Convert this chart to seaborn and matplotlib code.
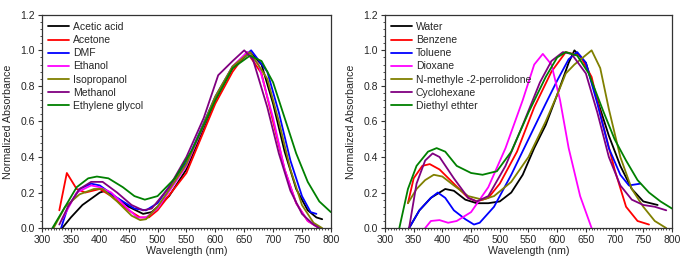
import matplotlib

matplotlib.use("Agg")

import matplotlib.pyplot as plt
import pandas as pd
import seaborn as sns
from matplotlib.ticker import MultipleLocator

COLORS = ["#000000", "#ff0000", "#0000ff", "#ff00ff", "#808000", "#800080", "#008000"]

# left panel: polar / protic solvents
LEFT_NAMES = ["Acetic acid", "Acetone", "DMF", "Ethanol", "Isopropanol", "Methanol", "Ethylene glycol"]

acetic_wl = [335, 350, 370, 400, 410, 430, 450, 475, 490, 520, 550, 600, 630, 660, 680, 700, 720, 740, 760, 775, 785]
acetic_abs = [0.0, 0.06, 0.13, 0.20, 0.21, 0.17, 0.12, 0.08, 0.09, 0.18, 0.33, 0.72, 0.90, 0.99, 0.92, 0.70, 0.43, 0.22, 0.10, 0.06, 0.05]

acetone_wl = [330, 343, 360, 375, 400, 420, 450, 470, 485, 500, 550, 600, 630, 655, 680, 700, 720, 740, 760, 780]
acetone_abs = [0.10, 0.31, 0.22, 0.20, 0.22, 0.18, 0.10, 0.06, 0.06, 0.10, 0.31, 0.70, 0.88, 0.99, 0.87, 0.60, 0.33, 0.14, 0.04, 0.0]

dmf_wl = [333, 345, 365, 385, 400, 430, 460, 480, 500, 550, 600, 630, 662, 690, 710, 730, 750, 765, 775]
dmf_abs = [0.0, 0.12, 0.22, 0.25, 0.24, 0.17, 0.11, 0.10, 0.14, 0.37, 0.74, 0.91, 1.0, 0.88, 0.65, 0.38, 0.18, 0.09, 0.08]

ethanol_wl = [335, 360, 385, 400, 420, 445, 465, 480, 500, 550, 600, 630, 655, 675, 700, 720, 740, 760, 780]
ethanol_abs = [0.05, 0.20, 0.24, 0.23, 0.20, 0.12, 0.06, 0.06, 0.11, 0.35, 0.73, 0.91, 0.99, 0.92, 0.62, 0.33, 0.14, 0.04, 0.0]

isoprop_wl = [320, 340, 365, 390, 405, 430, 455, 470, 480, 500, 550, 600, 630, 660, 690, 710, 730, 750, 770, 785]
isoprop_abs = [0.0, 0.12, 0.19, 0.22, 0.22, 0.15, 0.07, 0.045, 0.05, 0.12, 0.36, 0.74, 0.91, 0.99, 0.84, 0.60, 0.33, 0.13, 0.03, 0.0]

methanol_wl = [330, 345, 365, 385, 405, 430, 455, 475, 490, 520, 550, 580, 605, 630, 650, 665, 690, 710, 730, 750, 770, 780]
methanol_abs = [0.02, 0.12, 0.22, 0.26, 0.26, 0.20, 0.13, 0.10, 0.11, 0.23, 0.40, 0.62, 0.86, 0.94, 1.0, 0.95, 0.68, 0.42, 0.21, 0.08, 0.02, 0.0]

glycol_wl = [318, 340, 360, 380, 395, 415, 440, 460, 478, 500, 530, 560, 600, 630, 660, 680, 700, 720, 740, 760, 780, 800]
glycol_abs = [0.0, 0.12, 0.23, 0.28, 0.29, 0.28, 0.23, 0.18, 0.16, 0.18, 0.28, 0.44, 0.72, 0.90, 0.97, 0.94, 0.82, 0.62, 0.42, 0.26, 0.15, 0.09]

# right panel: non-polar solvents
RIGHT_NAMES = ["Water", "Benzene", "Toluene", "Dioxane", "N-methyle -2-perrolidone", "Cyclohexane", "Diethyl ethter"]

water_wl = [342, 360, 380, 405, 420, 440, 460, 480, 500, 520, 540, 560, 580, 600, 620, 630, 650, 670, 690, 710, 730, 750, 775]
water_abs = [0.0, 0.10, 0.17, 0.22, 0.21, 0.16, 0.14, 0.14, 0.15, 0.20, 0.30, 0.45, 0.58, 0.75, 0.93, 1.0, 0.93, 0.72, 0.52, 0.35, 0.22, 0.15, 0.13]

benzene_wl = [340, 350, 365, 378, 395, 420, 445, 460, 480, 500, 530, 560, 590, 615, 640, 660, 680, 700, 720, 740, 760]
benzene_abs = [0.14, 0.28, 0.35, 0.36, 0.33, 0.25, 0.17, 0.15, 0.17, 0.25, 0.43, 0.68, 0.88, 0.99, 0.97, 0.85, 0.58, 0.33, 0.12, 0.04, 0.02]

toluene_wl = [342, 360, 380, 392, 405, 420, 440, 455, 465, 490, 520, 550, 580, 600, 620, 635, 650, 670, 690, 710, 725, 745]
toluene_abs = [0.0, 0.10, 0.17, 0.20, 0.17, 0.10, 0.05, 0.02, 0.03, 0.12, 0.30, 0.50, 0.70, 0.83, 0.95, 0.99, 0.93, 0.70, 0.45, 0.30, 0.24, 0.25]

dioxane_wl = [370, 380, 395, 410, 425, 450, 480, 510, 540, 560, 575, 590, 605, 620, 640, 660]
dioxane_abs = [0.0, 0.04, 0.045, 0.03, 0.04, 0.09, 0.23, 0.45, 0.72, 0.92, 0.98, 0.92, 0.72, 0.45, 0.18, 0.0]

nmp_wl = [340, 355, 370, 385, 400, 420, 445, 470, 490, 520, 550, 580, 600, 615, 630, 645, 660, 675, 690, 710, 730, 750, 770, 790]
nmp_abs = [0.14, 0.22, 0.27, 0.30, 0.29, 0.24, 0.18, 0.16, 0.18, 0.26, 0.40, 0.60, 0.75, 0.87, 0.92, 0.96, 1.0, 0.90, 0.67, 0.40, 0.22, 0.12, 0.04, 0.0]

cyclo_wl = [342, 355, 370, 383, 395, 420, 445, 460, 480, 510, 540, 570, 590, 610, 625, 650, 670, 690, 710, 730, 750, 770, 790]
cyclo_abs = [0.0, 0.25, 0.38, 0.42, 0.40, 0.28, 0.17, 0.15, 0.18, 0.35, 0.58, 0.82, 0.94, 0.99, 0.98, 0.87, 0.65, 0.40, 0.24, 0.16, 0.13, 0.12, 0.10]

ether_wl = [325, 340, 355, 375, 390, 405, 425, 450, 470, 495, 520, 550, 580, 600, 615, 635, 655, 680, 700, 720, 740, 760, 780, 800]
ether_abs = [0.0, 0.22, 0.35, 0.43, 0.45, 0.43, 0.35, 0.31, 0.30, 0.32, 0.43, 0.65, 0.85, 0.96, 0.99, 0.97, 0.87, 0.66, 0.50, 0.38, 0.27, 0.20, 0.15, 0.11]

LEFT_SERIES = [
    (acetic_wl, acetic_abs), (acetone_wl, acetone_abs), (dmf_wl, dmf_abs),
    (ethanol_wl, ethanol_abs), (isoprop_wl, isoprop_abs),
    (methanol_wl, methanol_abs), (glycol_wl, glycol_abs),
]
RIGHT_SERIES = [
    (water_wl, water_abs), (benzene_wl, benzene_abs), (toluene_wl, toluene_abs),
    (dioxane_wl, dioxane_abs), (nmp_wl, nmp_abs),
    (cyclo_wl, cyclo_abs), (ether_wl, ether_abs),
]


def to_frame(names, series):
    rows = []
    for name, (wl, ab) in zip(names, series):
        for w, a in zip(wl, ab):
            rows.append({"solvent": name, "wavelength": w, "absorbance": a})
    return pd.DataFrame(rows)


def draw_panel(ax, names, series):
    df = to_frame(names, series)
    sns.lineplot(
        data=df, x="wavelength", y="absorbance", hue="solvent",
        hue_order=names, palette=COLORS, sort=False, estimator=None,
        linewidth=1.3, ax=ax,
    )
    ax.set_xlim(300, 800)
    ax.set_ylim(0, 1.2)
    ax.xaxis.set_major_locator(MultipleLocator(50))
    ax.xaxis.set_minor_locator(MultipleLocator(5))
    ax.yaxis.set_major_locator(MultipleLocator(0.2))
    ax.yaxis.set_minor_locator(MultipleLocator(0.04))
    ax.yaxis.set_major_formatter(plt.FuncFormatter(lambda v, _: f"{v:.1f}"))
    ax.tick_params(which="both", bottom=True, left=True, top=False, right=False)
    ax.tick_params(which="major", direction="out", length=3, width=0.8,
                   labelsize=7.5, color="#333333", pad=2)
    ax.tick_params(which="minor", direction="out", length=1.5, width=0.6, color="#333333")
    for sp in ax.spines.values():
        sp.set_color("#333333")
        sp.set_linewidth(0.9)
    ax.set_xlabel("Wavelength (nm)", fontsize=7.7, labelpad=1)
    ax.set_ylabel("Normalized Absorbance", fontsize=7.7, labelpad=5)
    ax.grid(False)
    ax.legend(loc="upper left", frameon=False, fontsize=7.5, handlelength=2.0,
              handletextpad=0.35, labelspacing=0.3, borderaxespad=0.2,
              bbox_to_anchor=(0.0, 0.995))


sns.set_theme(style="white")
plt.rcParams["font.family"] = ["Liberation Sans", "DejaVu Sans"]

fig = plt.figure(figsize=(6.85, 2.64), dpi=100)
ax1 = fig.add_axes([0.0613, 0.136, 0.4217, 0.808])
ax2 = fig.add_axes([0.562, 0.136, 0.419, 0.808])

draw_panel(ax1, LEFT_NAMES, LEFT_SERIES)
draw_panel(ax2, RIGHT_NAMES, RIGHT_SERIES)

fig.savefig("out.png", dpi=100)
